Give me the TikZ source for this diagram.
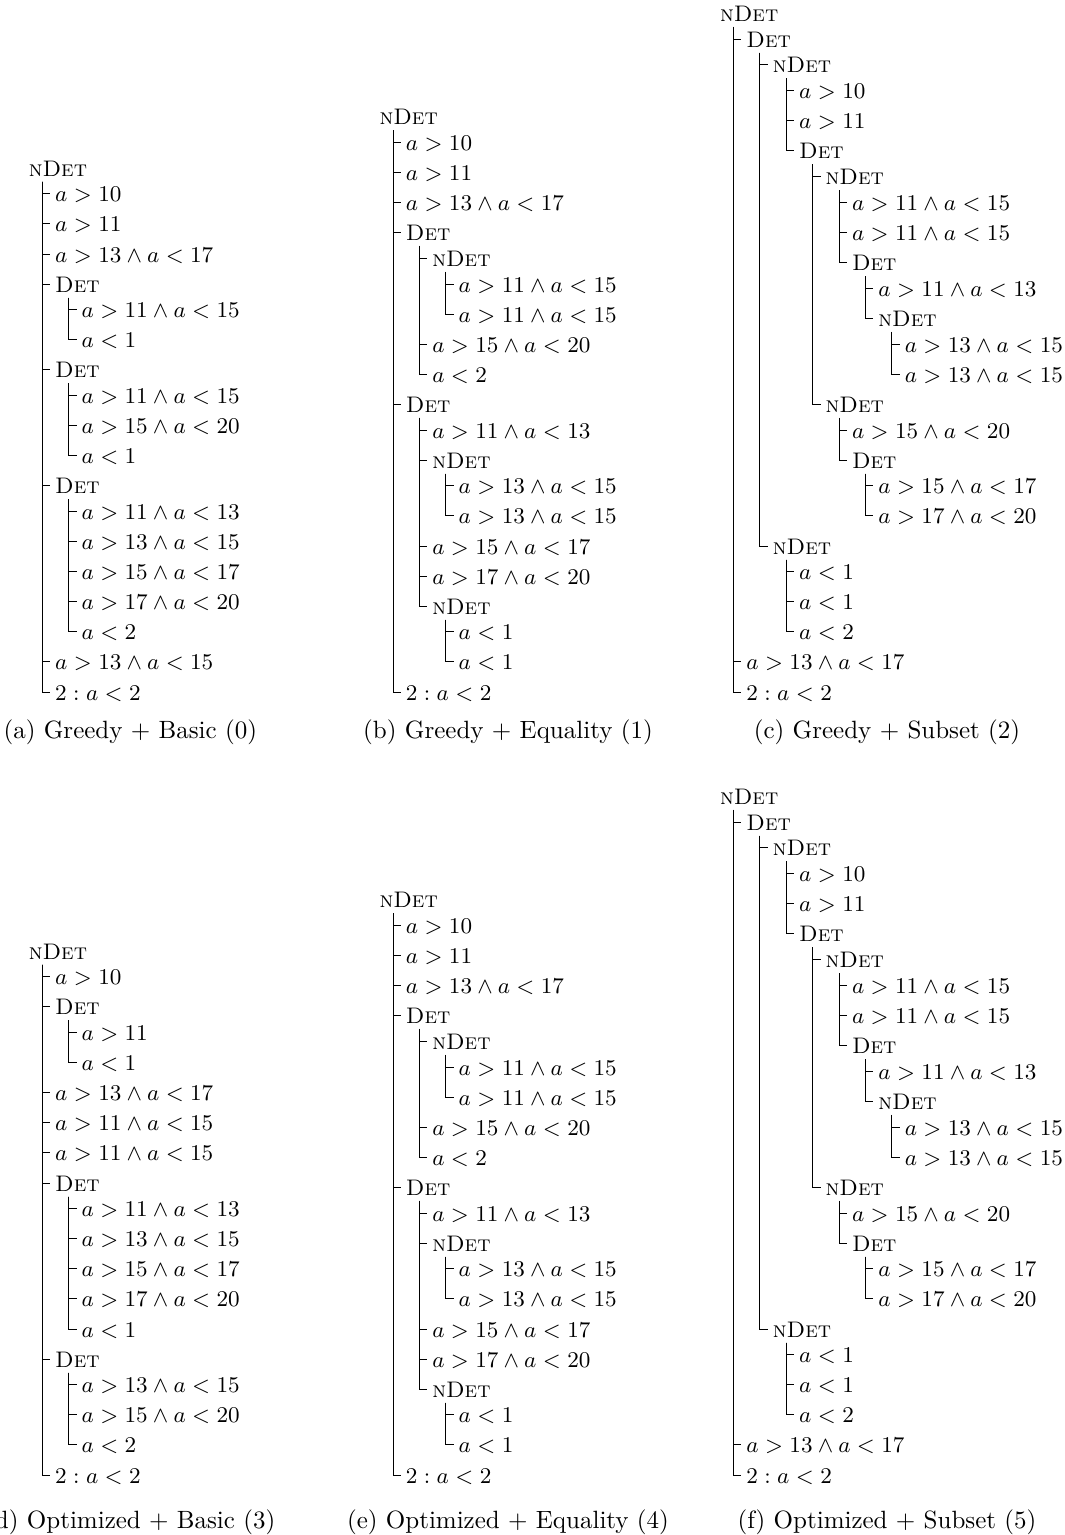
\documentclass[tikz,border=0pt]{standalone}
\usepackage{amsmath, amssymb}
\usepackage{tikz}
\usetikzlibrary{positioning, calc}

\newcommand{\ndet}{\textsc{nDet}}
\newcommand{\detn}{\textsc{Det}}

% 間隔（参照画像のピクセル単位）
\newcommand{\indw}{26.4}
\newcommand{\hgap}{25.8}
\newcommand{\mgap}{30.05}

% 親の縦線から子への枝
\newcommand{\branch}[2]{\draw[treeline] ([shift={(5.6pt,-2.2pt)}]#1.base west) |- ([shift={(-1.8pt,3.2pt)}]#2.base west);}

% 根・見出し行・条件行
\newcommand{\troot}[4]{%
  \xdef\rowx{#2}\xdef\rowy{#3}%
  \node[rowlbl] (#1) at (\rowx,\rowy) {#4};%
  \pgfmathparse{\rowy+\hgap}\xdef\rowy{\pgfmathresult}}
\newcommand{\hrow}[4]{%
  \node[rowlbl] (#1) at ({\rowx+#3*\indw},\rowy) {#4};%
  \branch{#2}{#1}%
  \pgfmathparse{\rowy+\hgap}\xdef\rowy{\pgfmathresult}}
\newcommand{\mrow}[4]{%
  \node[rowlbl] (#1) at ({\rowx+#3*\indw},\rowy) {#4};%
  \branch{#2}{#1}%
  \pgfmathparse{\rowy+\mgap}\xdef\rowy{\pgfmathresult}}

% Equality の木 (b), (e)
\newcommand{\treeeq}[3]{%
  \troot{#10}{#2}{#3}{\ndet}
  \mrow{#11}{#10}{1}{$a>10$}
  \mrow{#12}{#10}{1}{$a>11$}
  \mrow{#13}{#10}{1}{$a>13\wedge a<17$}
  \hrow{#14}{#10}{1}{\detn}
  \hrow{#15}{#14}{2}{\ndet}
  \mrow{#16}{#15}{3}{$a>11\wedge a<15$}
  \mrow{#17}{#15}{3}{$a>11\wedge a<15$}
  \mrow{#18}{#14}{2}{$a>15\wedge a<20$}
  \mrow{#19}{#14}{2}{$a<2$}
  \hrow{#1a}{#10}{1}{\detn}
  \mrow{#1b}{#1a}{2}{$a>11\wedge a<13$}
  \hrow{#1c}{#1a}{2}{\ndet}
  \mrow{#1d}{#1c}{3}{$a>13\wedge a<15$}
  \mrow{#1e}{#1c}{3}{$a>13\wedge a<15$}
  \mrow{#1f}{#1a}{2}{$a>15\wedge a<17$}
  \mrow{#1g}{#1a}{2}{$a>17\wedge a<20$}
  \hrow{#1h}{#1a}{2}{\ndet}
  \mrow{#1i}{#1h}{3}{$a<1$}
  \mrow{#1j}{#1h}{3}{$a<1$}
  \mrow{#1k}{#10}{1}{$2:a<2$}}

% Subset の木 (c), (f)
\newcommand{\treesub}[3]{%
  \troot{#10}{#2}{#3}{\ndet}
  \hrow{#11}{#10}{1}{\detn}
  \hrow{#12}{#11}{2}{\ndet}
  \mrow{#13}{#12}{3}{$a>10$}
  \mrow{#14}{#12}{3}{$a>11$}
  \hrow{#15}{#12}{3}{\detn}
  \hrow{#16}{#15}{4}{\ndet}
  \mrow{#17}{#16}{5}{$a>11\wedge a<15$}
  \mrow{#18}{#16}{5}{$a>11\wedge a<15$}
  \hrow{#19}{#16}{5}{\detn}
  \mrow{#1a}{#19}{6}{$a>11\wedge a<13$}
  \hrow{#1b}{#19}{6}{\ndet}
  \mrow{#1c}{#1b}{7}{$a>13\wedge a<15$}
  \mrow{#1d}{#1b}{7}{$a>13\wedge a<15$}
  \hrow{#1e}{#15}{4}{\ndet}
  \mrow{#1f}{#1e}{5}{$a>15\wedge a<20$}
  \hrow{#1g}{#1e}{5}{\detn}
  \mrow{#1h}{#1g}{6}{$a>15\wedge a<17$}
  \mrow{#1i}{#1g}{6}{$a>17\wedge a<20$}
  \hrow{#1j}{#11}{2}{\ndet}
  \mrow{#1k}{#1j}{3}{$a<1$}
  \mrow{#1l}{#1j}{3}{$a<1$}
  \mrow{#1m}{#1j}{3}{$a<2$}
  \mrow{#1n}{#10}{1}{$a>13\wedge a<17$}
  \mrow{#1o}{#10}{1}{$2:a<2$}}

\begin{document}
\begin{tikzpicture}[
    x=0.4pt, y=-0.4pt,
    rowlbl/.style={anchor=base west, inner sep=0pt, font=\small},
    treeline/.style={line width=0.4pt},
    subcap/.style={anchor=base, inner sep=0pt}
  ]
    \useasboundingbox (0,0) rectangle (1065,1535);

    % (a) Greedy + Basic
    \troot{a0}{28.3}{176.1}{\ndet}
    \mrow{a1}{a0}{1}{$a>10$}
    \mrow{a2}{a0}{1}{$a>11$}
    \mrow{a3}{a0}{1}{$a>13\wedge a<17$}
    \hrow{a4}{a0}{1}{\detn}
    \mrow{a5}{a4}{2}{$a>11\wedge a<15$}
    \mrow{a6}{a4}{2}{$a<1$}
    \hrow{a7}{a0}{1}{\detn}
    \mrow{a8}{a7}{2}{$a>11\wedge a<15$}
    \mrow{a9}{a7}{2}{$a>15\wedge a<20$}
    \mrow{a10}{a7}{2}{$a<1$}
    \hrow{a11}{a0}{1}{\detn}
    \mrow{a12}{a11}{2}{$a>11\wedge a<13$}
    \mrow{a13}{a11}{2}{$a>13\wedge a<15$}
    \mrow{a14}{a11}{2}{$a>15\wedge a<17$}
    \mrow{a15}{a11}{2}{$a>17\wedge a<20$}
    \mrow{a16}{a11}{2}{$a<2$}
    \mrow{a17}{a0}{1}{$a>13\wedge a<15$}
    \mrow{a18}{a0}{1}{$2:a<2$}

    % (b) Greedy + Equality
    \treeeq{b}{379}{124.5}

    % (c) Greedy + Subset
    \treesub{c}{719.5}{21.3}

    % (d) Optimized + Basic
    \troot{d0}{28.3}{959.1}{\ndet}
    \mrow{d1}{d0}{1}{$a>10$}
    \hrow{d2}{d0}{1}{\detn}
    \mrow{d3}{d2}{2}{$a>11$}
    \mrow{d4}{d2}{2}{$a<1$}
    \mrow{d5}{d0}{1}{$a>13\wedge a<17$}
    \mrow{d6}{d0}{1}{$a>11\wedge a<15$}
    \mrow{d7}{d0}{1}{$a>11\wedge a<15$}
    \hrow{d8}{d0}{1}{\detn}
    \mrow{d9}{d8}{2}{$a>11\wedge a<13$}
    \mrow{d10}{d8}{2}{$a>13\wedge a<15$}
    \mrow{d11}{d8}{2}{$a>15\wedge a<17$}
    \mrow{d12}{d8}{2}{$a>17\wedge a<20$}
    \mrow{d13}{d8}{2}{$a<1$}
    \hrow{d14}{d0}{1}{\detn}
    \mrow{d15}{d14}{2}{$a>13\wedge a<15$}
    \mrow{d16}{d14}{2}{$a>15\wedge a<20$}
    \mrow{d17}{d14}{2}{$a<2$}
    \mrow{d18}{d0}{1}{$2:a<2$}

    % (e) Optimized + Equality
    \treeeq{e}{379}{907.5}

    % (f) Optimized + Subset
    \treesub{f}{719.5}{804.3}

    % キャプション
    \node[subcap] (capa) at (130.3,738) {(a) Greedy $+$ Basic (0)};
    \node[subcap] (capb) at (508,738) {(b) Greedy $+$ Equality (1)};
    \node[subcap] (capc) at (887,738) {(c) Greedy $+$ Subset (2)};
    \node[subcap] (capd) at (130.3,1528) {(d) Optimized $+$ Basic (3)};
    \node[subcap] (cape) at (508,1528) {(e) Optimized $+$ Equality (4)};
    \node[subcap] (capf) at (887,1528) {(f) Optimized $+$ Subset (5)};

  \end{tikzpicture}
\end{document}
